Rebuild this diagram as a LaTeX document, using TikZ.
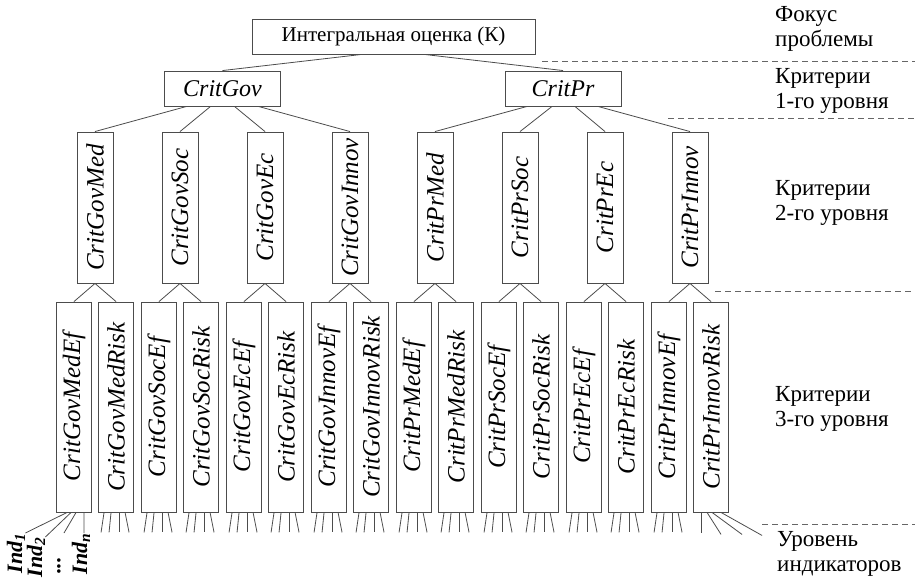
\documentclass[tikz,border=0pt]{standalone}
\usepackage{fontspec}
\usepackage{graphicx}
\setmainfont{Liberation Serif}
\usetikzlibrary{calc}
\begin{document}
\begin{tikzpicture}[x=1pt,y=-1pt,
  bx/.style={draw=black!70, line width=0.9pt, inner sep=0pt},
  topbox/.style={bx, minimum width=283pt, minimum height=35pt, font=\fontsize{21}{24}\selectfont},
  l1box/.style={bx, minimum width=116pt, minimum height=35pt, font=\fontsize{24}{28}\selectfont\itshape},
  l2box/.style={bx, minimum width=36pt, minimum height=151pt, font=\fontsize{25}{28}\selectfont\itshape},
  l3box/.style={bx, minimum width=35pt, minimum height=210pt, font=\fontsize{25}{28}\selectfont\itshape},
  conn/.style={draw=black!70, line width=0.8pt},
  lvl/.style={anchor=west, align=left, inner sep=0pt, font=\fontsize{23}{25}\selectfont},
  sepline/.style={draw=black!60, line width=0.8pt, dash pattern=on 6pt off 4pt},
  ind/.style={inner sep=0pt, anchor=north, font=\fontsize{22}{24}\selectfont\bfseries\itshape}
]
\useasboundingbox (0,0) rectangle (915,578);

% top levels
\node[topbox] (top) at (393.5,36.5) {Интегральная оценка (К)};
\node[l1box] (g) at (222.5,88.5) {CritGov};
\node[l1box] (p) at (563,88.5) {CritPr};
\draw[conn] ([xshift=-32pt]top.south) -- (g.north);
\draw[conn] ([xshift=31pt]top.south) -- (p.north);

% level 2
\foreach \n/\t [count=\i from 0] in {gmed/CritGovMed, gsoc/CritGovSoc, gec/CritGovEc, ginn/CritGovInnov, pmed/CritPrMed, psoc/CritPrSoc, pec/CritPrEc, pinn/CritPrInnov}{
  \node[l2box] (\n) at ({95+85*\i},207.5) {\rotatebox{90}{\t}};
}
\foreach \n/\o in {gmed/-36, gsoc/-12, gec/12, ginn/36}{
  \draw[conn] ([xshift=\o pt]g.south) -- (\n.north);
}
\foreach \n/\o in {pmed/-36, psoc/-11, pec/12, pinn/35}{
  \draw[conn] ([xshift=\o pt]p.south) -- (\n.north);
}

% level 3
\foreach \n/\t [count=\i from 0] in {gmed-ef/CritGovMedEf, gmed-risk/CritGovMedRisk, gsoc-ef/CritGovSocEf, gsoc-risk/CritGovSocRisk, gec-ef/CritGovEcEf, gec-risk/CritGovEcRisk, ginn-ef/CritGovInnovEf, ginn-risk/CritGovInnovRisk, pmed-ef/CritPrMedEf, pmed-risk/CritPrMedRisk, psoc-ef/CritPrSocEf, psoc-risk/CritPrSocRisk, pec-ef/CritPrEcEf, pec-risk/CritPrEcRisk, pinn-ef/CritPrInnovEf, pinn-risk/CritPrInnovRisk}{
  \pgfmathsetmacro\xx{74+85*floor(\i/2)+42*mod(\i,2)}
  \node[l3box] (\n) at (\xx,407) {\rotatebox{90}{\t}};
}
\foreach \a in {gmed, gsoc, gec, ginn, pmed, psoc, pec, pinn}{
  \draw[conn] (\a.south) -- (\a-ef.north);
  \draw[conn] (\a.south) -- (\a-risk.north);
}

% indicator fans
\foreach \n in {gmed-risk, gsoc-ef, gsoc-risk, gec-ef, gec-risk, ginn-ef, ginn-risk, pmed-ef, pmed-risk, psoc-ef, psoc-risk, pec-ef, pec-risk, pinn-ef}{
  \foreach \a/\b in {6/3, 13/11, 21/21, 27/31}{
    \draw[conn] ([xshift=\a pt]\n.south west) -- ([xshift=\b pt, yshift=-20pt]\n.south west);
  }
}

% indicator labels (first box)
\node[ind] (i1) at (16,533) {\rotatebox{90}{Ind\textsubscript{1}}};
\node[ind] (i2) at (36,537) {\rotatebox{90}{Ind\textsubscript{2}}};
\node[ind] (idots) at (59,557) {\rotatebox{90}{...}};
\node[ind] (in) at (81,533) {\rotatebox{90}{Ind\textsubscript{n}}};
\draw[conn] ([xshift=11pt]gmed-ef.south west) -- (i1.north east);
\draw[conn] ([xshift=15pt]gmed-ef.south west) -- (i2.north east);
\draw[conn] ([xshift=20pt]gmed-ef.south west) -- ([xshift=5pt,yshift=24pt]idots.north);
\draw[conn] ([xshift=28pt]gmed-ef.south west) -- ([xshift=3pt]in.north);

% last box fan
\foreach \a/\b/\c in {8/8/21, 14/28/22, 19/49/22, 28/69/23}{
  \draw[conn] ([xshift=\a pt]pinn-risk.south west) -- ([xshift=\b pt, yshift=-\c pt]pinn-risk.south west);
}

% level separators
\coordinate (s1) at (542,61);  \coordinate (e1) at (915,61);
\coordinate (s2) at (668,118); \coordinate (e2) at (915,118);
\coordinate (s3) at (715,291); \coordinate (e3) at (915,291);
\coordinate (s4) at (762,524); \coordinate (e4) at (915,524);
\draw[sepline] (s1) -- (e1);
\draw[sepline] (s2) -- (e2);
\draw[sepline] (s3) -- (e3);
\draw[sepline] (s4) -- (e4);

% level labels
\node[lvl] (f0) at (775,28.5) {Фокус\\проблемы};
\node[lvl] (f1) at (775,90.5) {Критерии\\1-го уровня};
\node[lvl] (f2) at (775,202.5) {Критерии\\2-го уровня};
\node[lvl] (f3) at (775,408.5) {Критерии\\3-го уровня};
\node[lvl] (f4) at (777,554) {Уровень\\индикаторов};
\end{tikzpicture}
\end{document}
